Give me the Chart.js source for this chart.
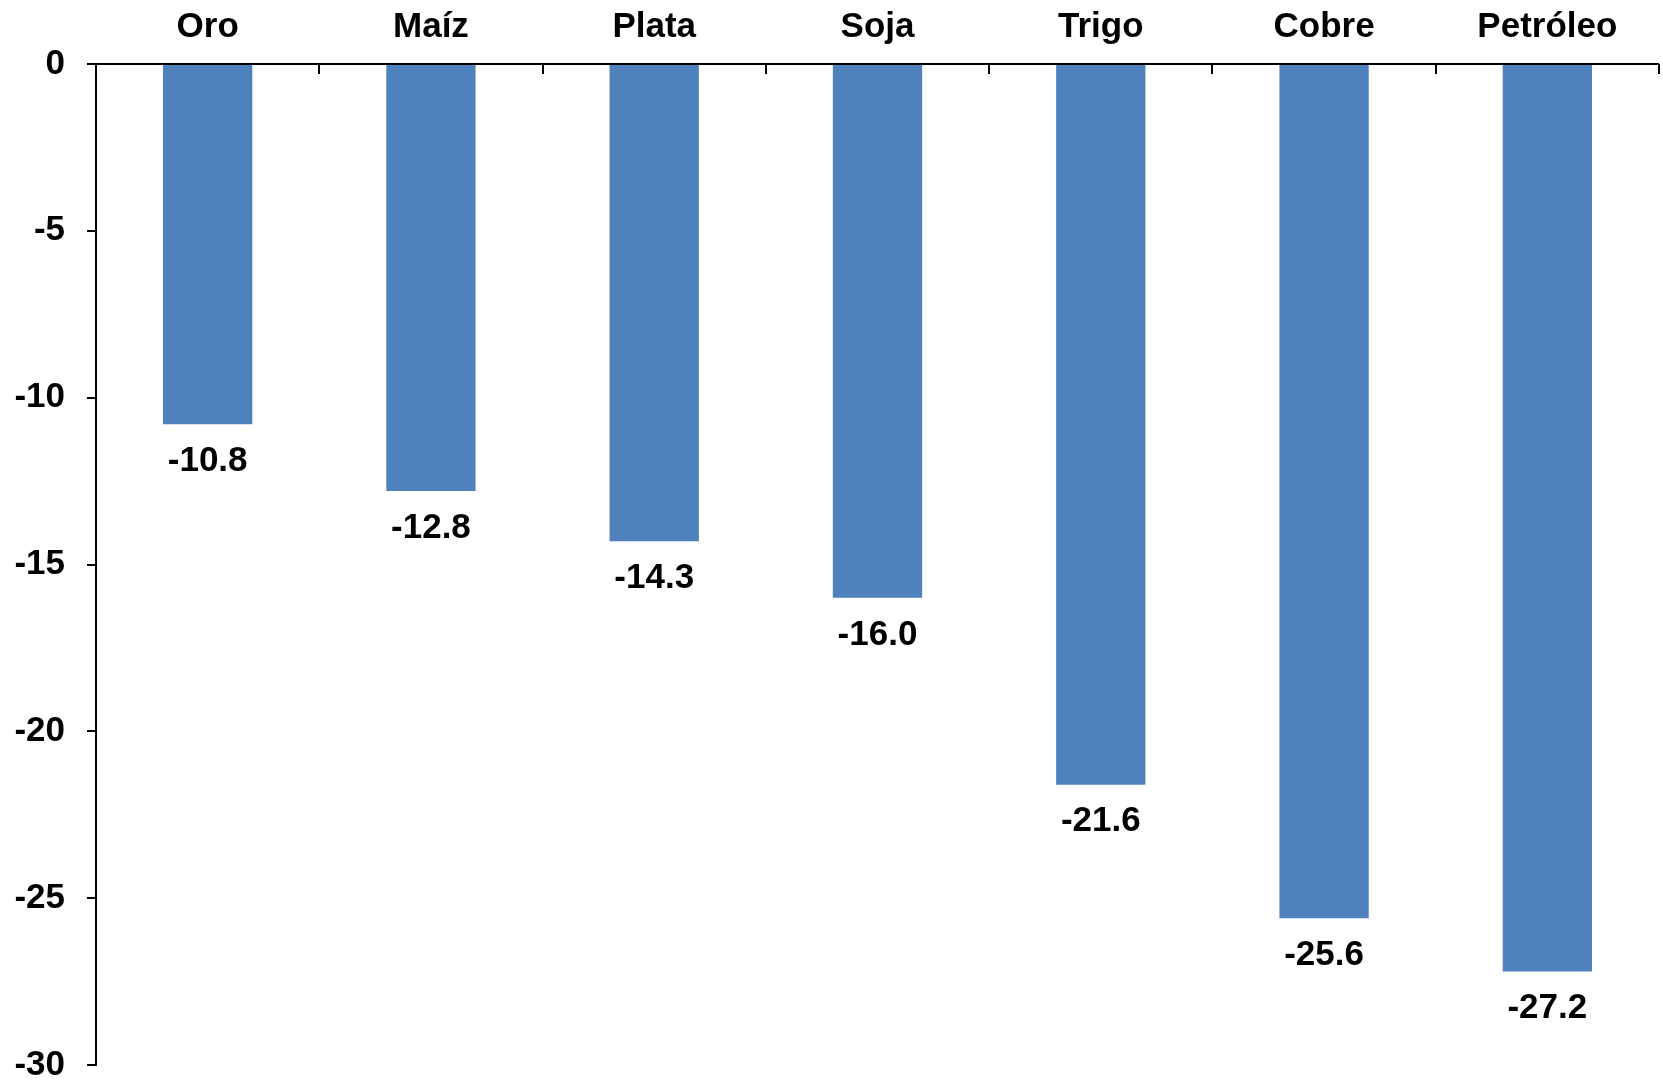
<!DOCTYPE html>
<html>
<head>
<meta charset="utf-8">
<script src="https://cdn.jsdelivr.net/npm/chart.js@4"></script>
<style>
html,body{margin:0;padding:0;background:#fff;}
#wrap{width:1663px;height:1086px;}
</style>
</head>
<body>
<div id="wrap"><canvas id="c" width="1663" height="1086"></canvas></div>
<script>
const categories = ["Oro", "Maíz", "Plata", "Soja", "Trigo", "Cobre", "Petróleo"];
const values = [-10.8, -12.8, -14.3, -16.0, -21.6, -25.6, -27.2];
const yMin = -30, yMax = 0, yStep = 5;

const FONT = "'Liberation Sans', Arial, sans-serif";
const FSIZE = 35;

const valueLabels = {
  id: 'valueLabels',
  afterDatasetsDraw(chart) {
    const ctx = chart.ctx;
    const meta = chart.getDatasetMeta(0);
    ctx.save();
    ctx.font = "bold " + FSIZE + "px " + FONT;
    ctx.fillStyle = "#000";
    ctx.textAlign = "center";
    ctx.textBaseline = "middle";
    meta.data.forEach((bar, i) => {
      ctx.fillText(values[i].toFixed(1), bar.x, bar.y + 37);
    });
    ctx.restore();
  }
};

const catTicks = {
  id: 'catTicks',
  afterDraw(chart) {
    const ctx = chart.ctx;
    const xs = chart.scales.x;
    const ys = chart.scales.y;
    const y0 = ys.getPixelForValue(0);
    const n = categories.length;
    const w = (xs.right - xs.left) / n;
    ctx.save();
    ctx.strokeStyle = "#000";
    ctx.lineWidth = 2;
    ctx.beginPath();
    ctx.moveTo(xs.left, y0);
    ctx.lineTo(xs.right, y0);
    for (let i = 1; i <= n; i++) {
      const x = Math.round(xs.getPixelForValue(i - 1) + w / 2);
      ctx.moveTo(x, y0);
      ctx.lineTo(x, y0 + 10);
    }
    ctx.stroke();
    ctx.restore();
  }
};

new Chart(document.getElementById('c'), {
  type: 'bar',
  data: {
    labels: categories,
    datasets: [{
      data: values,
      backgroundColor: '#4F81BD',
      borderWidth: 0,
      categoryPercentage: 1.0,
      barPercentage: 0.4
    }]
  },
  options: {
    responsive: false,
    animation: false,
    layout: { padding: { top: 0, right: 4, bottom: 0, left: 0 } },
    plugins: { legend: { display: false }, tooltip: { enabled: false } },
    scales: {
      x: {
        position: 'top',
        grid: { display: true, drawOnChartArea: false, drawTicks: false, offset: true },
        border: { display: false },
        ticks: { color: '#000', font: { family: FONT, size: FSIZE, weight: 'bold' }, padding: 16, maxRotation: 0 },
        afterFit(s) { s.height = 64; }
      },
      y: {
        min: yMin, max: yMax,
        grid: { drawOnChartArea: false, drawTicks: true, tickLength: 9, color: '#000', lineWidth: 2 },
        border: { display: true, color: '#000', width: 2 },
        ticks: { stepSize: yStep, color: '#000', font: { family: FONT, size: FSIZE, weight: 'bold' }, padding: 22 },
        afterFit(s) { s.width = 96; s.paddingBottom = 21; s.paddingTop = 0; }
      }
    }
  },
  plugins: [valueLabels, catTicks]
});
</script>
</body>
</html>
